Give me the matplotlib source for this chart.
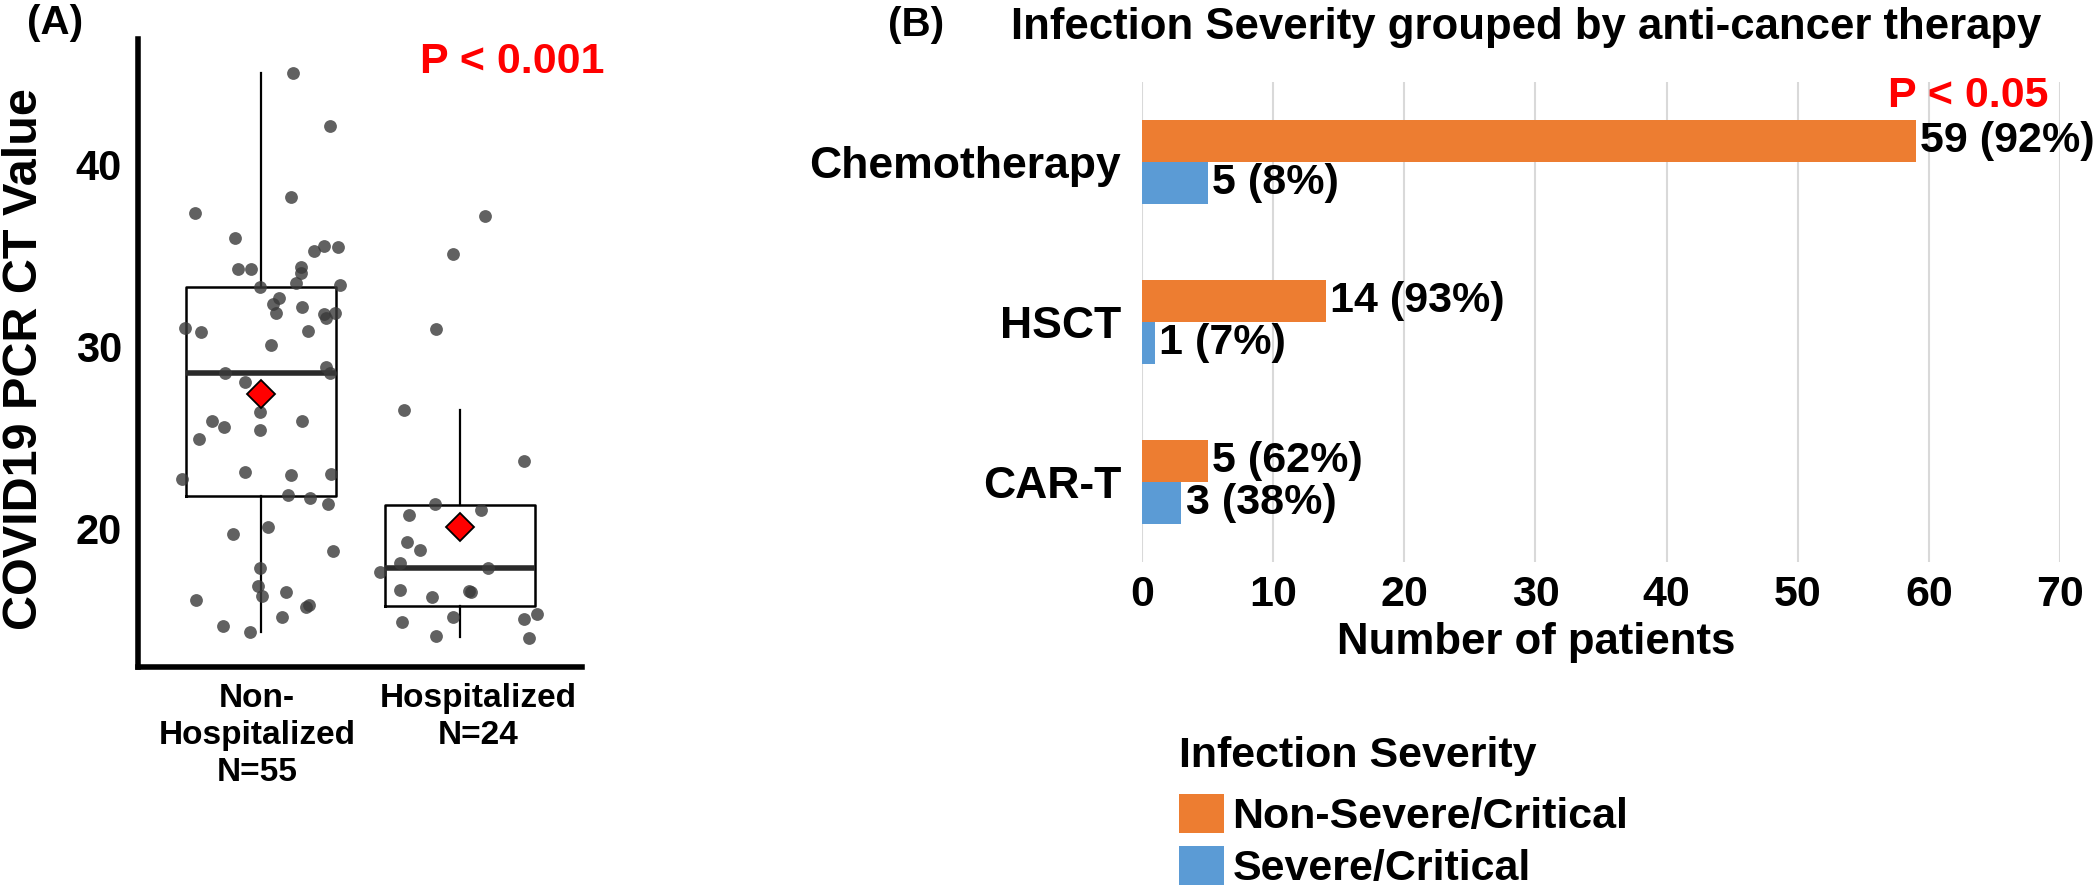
import numpy as np
import matplotlib
matplotlib.use("Agg")
import matplotlib.pyplot as plt

plt.rcParams['font.family'] = ['Liberation Sans', 'DejaVu Sans']
plt.rcParams['font.weight'] = 'bold'
plt.rcParams['axes.labelweight'] = 'bold'

# ---- panel A data (CT values) ----
groups = ['Non-\nHospitalized\nN=55', 'Hospitalized\nN=24']

nonhosp_jitter = [0.159, 0.348, 0.150, -0.331, -0.131, 0.319, 0.387, 0.264, -0.114, -0.052,
                  0.202, 0.200, 0.178, -0.007, 0.397, 0.089, 0.062, 0.208, 0.073, 0.319,
                  0.374, 0.329, -0.382, -0.302, 0.237, 0.050, 0.327, 0.348, -0.179, -0.081,
                  -0.005, -0.247, -0.186, 0.206, -0.003, -0.313, -0.080, 0.151, 0.352, -0.399,
                  0.138, 0.245, 0.335, 0.034, -0.143, 0.362, -0.005, -0.013, 0.005, 0.128,
                  -0.325, 0.241, 0.227, 0.106, -0.190, -0.054]
nonhosp_ct = [45.08, 42.15, 38.22, 37.38, 36.00, 35.56, 35.47, 35.27, 34.26, 34.29,
              34.40, 34.07, 33.49, 33.30, 33.39, 32.70, 32.33, 32.17, 31.83, 31.78,
              31.87, 31.56, 31.01, 30.81, 30.86, 30.07, 28.90, 28.57, 28.53, 28.06,
              26.42, 25.93, 25.56, 25.91, 25.41, 24.90, 23.12, 22.94, 22.97, 22.70,
              21.82, 21.65, 21.32, 20.08, 19.67, 18.77, 17.80, 16.83, 16.29, 16.51,
              16.06, 15.77, 15.65, 15.11, 14.62, 14.31]

hosp_jitter = [0.127, -0.035, -0.123, -0.279, 0.324, -0.125, 0.108, -0.257, -0.265, -0.201,
               -0.299, 0.143, -0.400, -0.301, -0.142, 0.047, 0.055, -0.033, 0.388, 0.322,
               -0.292, -0.119, 0.349]
hosp_ct = [37.21, 35.10, 30.97, 26.51, 23.71, 21.34, 21.01, 20.72, 19.25, 18.81,
           18.07, 17.83, 17.58, 16.62, 16.24, 16.57, 16.51, 15.14, 15.27, 15.00,
           14.86, 14.05, 13.98]

box_stats = [
    dict(whislo=14.3, q1=21.8, med=28.55, q3=33.3, whishi=45.06, mean=27.4, fliers=[]),
    dict(whislo=14.0, q1=15.75, med=17.84, q3=21.27, whishi=26.5, mean=20.1, fliers=[]),
]

# ---- panel B data ----
therapies = ['Chemotherapy', 'HSCT', 'CAR-T']
non_severe = [59, 14, 5]
non_severe_pct = [92, 93, 62]
severe = [5, 1, 3]
severe_pct = [8, 7, 38]

W, H = 2100, 885
fig = plt.figure(figsize=(W / 100, H / 100), dpi=100)


def fx(px):
    return px / W


def fy(py):
    return 1 - py / H


# ---------------- panel A ----------------
axA = fig.add_axes([fx(138), fy(667), 444 / W, 628 / H])
axA.bxp(box_stats, positions=[0, 1], widths=0.75, showcaps=False, showfliers=False,
        showmeans=True, zorder=1,
        boxprops=dict(color='black', linewidth=1.8),
        whiskerprops=dict(color='black', linewidth=1.6),
        medianprops=dict(color='#2a2a2a', linewidth=4),
        meanprops=dict(marker='D', markerfacecolor='red', markeredgecolor='black',
                       markersize=14, markeredgewidth=1.3, zorder=5))
axA.scatter(np.array(nonhosp_jitter), nonhosp_ct, s=85, color='#3a3a3a', alpha=0.8,
            linewidths=0, zorder=3)
axA.scatter(1 + np.array(hosp_jitter), hosp_ct, s=85, color='#3a3a3a', alpha=0.8,
            linewidths=0, zorder=3)

axA.set_xlim(-0.618, 1.613)
axA.set_ylim(12.37, 46.93)
axA.set_yticks([20, 30, 40])
axA.set_xticks([-0.02, 1.09])
axA.set_xticklabels(groups, fontsize=24, linespacing=1.25)
axA.tick_params(axis='y', length=0, pad=11.5, labelsize=30)
axA.tick_params(axis='x', length=0, pad=11.5)
for s in ['top', 'right']:
    axA.spines[s].set_visible(False)
for s in ['left', 'bottom']:
    axA.spines[s].set_linewidth(4)
axA.set_ylabel('COVID19 PCR CT Value', fontsize=35)
axA.yaxis.set_label_coords(-0.205, 0.49)

fig.text(fx(27), fy(34), '(A)', fontsize=29, va='baseline')
fig.text(fx(420), fy(73), 'P < 0.001', fontsize=31, color='red', va='baseline')

# ---------------- panel B ----------------
axB = fig.add_axes([fx(1142), fy(562), 918 / W, 480 / H])
y = np.arange(len(therapies))
h = 0.2625
b1 = axB.barh(y - h / 2, non_severe, height=h, color='#ED7D31', label='Non-Severe/Critical')
b2 = axB.barh(y + h / 2, severe, height=h, color='#5B9BD5', label='Severe/Critical')
axB.bar_label(b1, labels=[f'{n} ({p}%)' for n, p in zip(non_severe, non_severe_pct)],
              padding=3, fontsize=31, fontweight='bold')
axB.bar_label(b2, labels=[f'{n} ({p}%)' for n, p in zip(severe, severe_pct)],
              padding=3, fontsize=31, fontweight='bold')

axB.set_xlim(0, 70)
axB.set_ylim(2.5, -0.5)
axB.set_xticks(range(0, 80, 10))
axB.set_yticks(y)
axB.set_yticklabels(therapies, fontsize=32)
axB.tick_params(axis='x', length=0, pad=9.4, labelsize=31)
axB.tick_params(axis='y', length=0, pad=15)
axB.set_axisbelow(True)
axB.xaxis.grid(color='#d9d9d9', linewidth=1.5)
for s in axB.spines.values():
    s.set_visible(False)
axB.set_xlabel('Number of patients', fontsize=31.5)
axB.xaxis.set_label_coords(0.429, -0.125)

fig.text(fx(888), fy(36), '(B)', fontsize=29, va='baseline')
fig.text(fx(1526), fy(39), 'Infection Severity grouped by anti-cancer therapy',
         fontsize=31.5, ha='center', va='baseline')
fig.text(fx(2048), fy(107), 'P < 0.05', fontsize=31, color='red', ha='right', va='baseline')

leg = fig.legend(handles=[b1, b2], loc='upper left', bbox_to_anchor=(fx(1179), fy(736)),
                 bbox_transform=fig.transFigure, frameon=False, fontsize=31,
                 title='Infection Severity', title_fontproperties={'weight': 'bold', 'size': 31},
                 alignment='left', borderpad=0, borderaxespad=0, handlelength=1.05,
                 handleheight=1.0, labelspacing=0.21, handletextpad=0.19)
# a bit more room between the legend title and the entries
leg._legend_box.sep = 13

fig.savefig('out.png', dpi=100)
